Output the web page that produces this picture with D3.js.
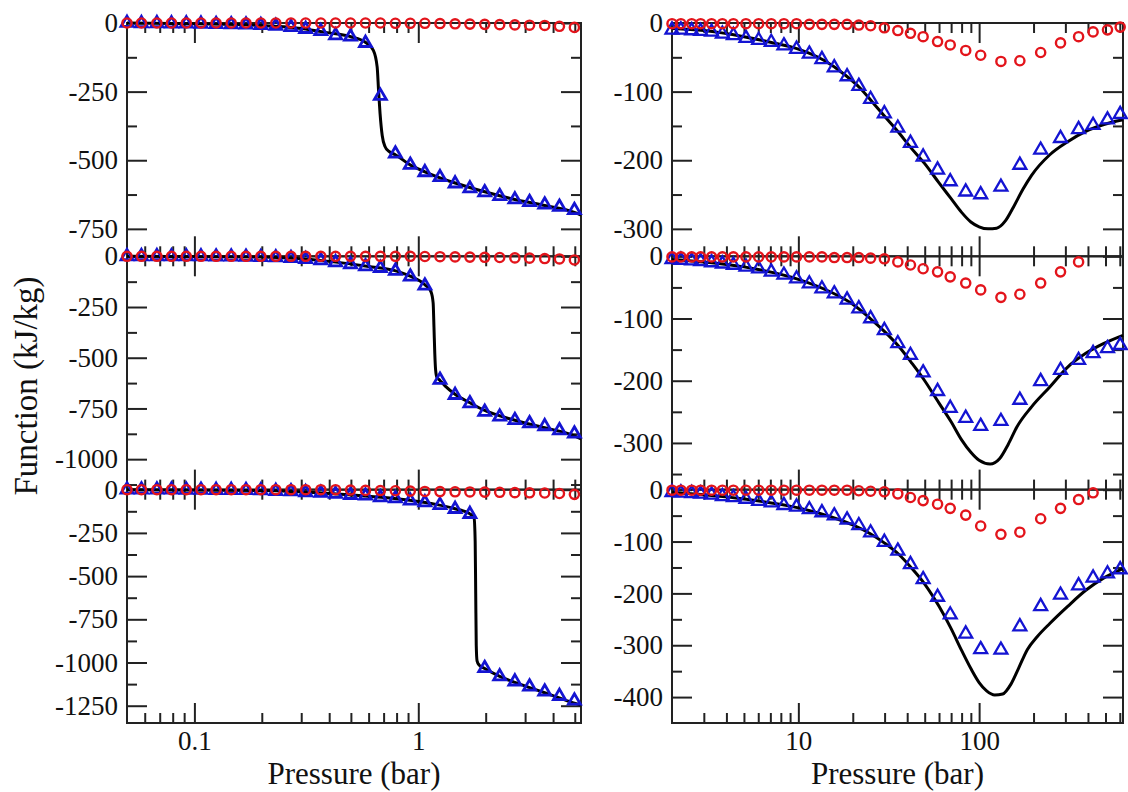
<!DOCTYPE html>
<html><head><meta charset="utf-8">
<script src="https://cdn.jsdelivr.net/npm/d3@7"></script>
<style>
body{margin:0;background:#fff}
svg{display:block}
text{font-family:"Liberation Serif","Times New Roman",serif;fill:#111}
</style>
</head><body>
<svg id="c" width="1128" height="792"></svg>
<script>
// ---------- DATA ----------
const leftPressure = [0.05,0.058,0.068,0.079,0.092,0.107,0.125,0.146,0.17,0.198,0.231,0.27,0.314,0.367,0.427,0.498,0.581,0.677,0.79,0.921,1.07,1.25,1.46,1.7,1.98,2.31,2.7,3.14,3.67,4.27,4.98];
const rightPressure = [2.0,2.24,2.57,2.88,3.31,3.8,4.37,5.13,6.03,7.08,8.32,9.77,11.5,13.5,15.8,18.6,21.6,25.1,29.9,35.5,41.7,49.0,58.9,69.2,84.3,102,132,168,219,282,355,427,513,603];

// left column, top
const l1Tri = [0,-1,-1,-2,-2,-3,-4,-5,-6,-8,-11,-15,-22,-30,-45,-50,-73,-266,-476,-517,-544,-562,-585,-603,-617,-631,-643,-653,-662,-670,-682];
const l1Cir = [0,0,0,0,0,0,0,0,0,0,0,0,0,0,0,0,0,0,-1,-1,-1,-2,-3,-4,-5,-6,-7,-8,-9,-12,-16];
const l1CurveP = [0.05,0.1,0.2,0.3,0.4,0.5,0.58,0.63,0.655,0.665,0.675,0.69,0.71,0.74,0.79,0.92,1.07,1.46,1.98,2.7,3.67,4.98,5.33];
const l1CurveV = [0,-3,-9,-20,-36,-50,-70,-100,-160,-250,-330,-410,-450,-468,-480,-517,-542,-583,-615,-643,-665,-690,-700];
// left column, middle
const l2Tri = [0,0,0,-1,-1,-1,-2,-2,-3,-4,-6,-9,-14,-20,-30,-40,-50,-58,-72,-100,-145,-609,-684,-725,-767,-791,-808,-824,-838,-858,-874];
const l2Cir = [0,0,0,0,0,0,0,0,0,0,0,0,0,0,0,0,0,0,0,0,-1,-2,-3,-4,-5,-6,-8,-9,-11,-13,-18];
const l2CurveP = [0.05,0.2,0.4,0.6,0.8,0.92,1.07,1.14,1.165,1.175,1.185,1.195,1.21,1.25,1.32,1.46,1.7,1.98,2.7,3.67,4.98,5.33];
const l2CurveV = [0,-4,-25,-50,-73,-98,-140,-175,-230,-350,-480,-560,-595,-612,-640,-680,-722,-760,-808,-845,-885,-900];
// left column, bottom
const l3Tri = [0,0,0,0,-1,-1,-2,-2,-3,-4,-8,-10,-15,-19,-25,-31,-35,-45,-50,-64,-74,-89,-112,-141,-1033,-1081,-1110,-1140,-1169,-1194,-1221];
const l3Cir = [0,0,0,0,0,0,0,0,0,0,0,0,0,0,0,-2,-4,-5,-6,-8,-10,-11,-12,-13,-14,-15,-17,-18,-19,-22,-27];
const l3CurveP = [0.05,0.2,0.4,0.6,0.8,1.0,1.2,1.46,1.7,1.775,1.795,1.805,1.815,1.83,1.87,1.98,2.31,2.7,3.14,3.67,4.27,4.98,5.33];
const l3CurveV = [0,-5,-22,-38,-52,-68,-85,-110,-140,-165,-300,-600,-900,-990,-1015,-1035,-1080,-1115,-1145,-1175,-1205,-1235,-1246];

// right column, top
const r1Tri = [-10,-10,-11,-12,-13,-16,-18,-22,-25,-28,-33,-38,-45,-53,-65,-78,-92,-111,-132,-153,-175,-195,-214,-231,-246,-250,-239,-207,-185,-168,-155,-149,-141,-133];
const r1Cir = [-1,-1,-1,-1,-1,-1,-1,-1,-1,-1,-1,-1,-2,-2,-2,-2,-3,-4,-7,-11,-15,-20,-27,-32,-40,-47,-56,-55,-43,-29,-20,-13,-10,-6];
const r1CurveP = [2,3,5,7,10,14,18,22,26,30,36,42,50,60,70,80,90,100,112,125,140,155,175,195,246,309,389,490,625];
const r1CurveV = [-8,-11,-20,-28,-38,-55,-75,-95,-117,-136,-160,-182,-205,-233,-256,-276,-290,-297,-300,-299,-288,-268,-242,-222,-192,-173,-158,-148,-141];
// right column, middle
const r2Tri = [-5,-6,-7,-8,-10,-12,-14,-17,-20,-25,-30,-36,-44,-52,-60,-70,-84,-100,-119,-140,-159,-187,-217,-244,-260,-273,-265,-231,-201,-183,-167,-156,-148,-143];
const r2Cir = [-1,-1,-1,-1,-1,-1,-1,-1,-1,-1,-1,-1,-1,-1,-2,-2,-2,-3,-4,-9,-14,-20,-25,-33,-43,-54,-66,-61,-43,-25,-9,null,null,null];
const r2CurveP = [2,5,10,15,20,25,30,36,42,50,60,70,80,90,100,115,130,145,162,195,246,309,389,490,625];
const r2CurveV = [-5,-17,-37,-57,-77,-100,-121,-145,-170,-200,-236,-266,-295,-315,-328,-334,-325,-302,-274,-242,-210,-178,-156,-140,-127];
// right column, bottom
const r3Tri = [-5,-6,-7,-8,-10,-13,-15,-18,-22,-25,-30,-33,-38,-44,-50,-58,-69,-83,-101,-118,-144,-173,-207,-241,-278,-308,-309,-264,-225,-203,-185,-170,-162,-154];
const r3Cir = [-1,-1,-1,-1,-1,-1,-1,-1,-1,-1,-1,-1,-1,-1,-1,-1,-2,-3,-4,-8,-15,-21,-28,-36,-49,-70,-86,-82,-56,-36,-19,-6,null,null];
const r3CurveP = [2,5,10,15,20,25,30,36,42,50,60,70,80,90,100,110,122,135,150,165,185,210,246,309,389,490,625];
const r3CurveV = [-5,-18,-35,-52,-68,-85,-103,-125,-150,-182,-225,-268,-310,-345,-372,-388,-396,-394,-375,-345,-308,-283,-258,-225,-194,-170,-152];

// axes
const leftXDomain = [0.05, 5.33];
const rightXDomain = [2, 625];
const leftXMajor = [0.1, 1];
const leftXMinor = [0.06,0.07,0.08,0.09,0.2,0.3,0.4,0.5,0.6,0.7,0.8,0.9,2,3,4,5];
const rightXMajor = [10, 100];
const rightXMinor = [3,4,5,6,7,8,9,20,30,40,50,60,70,80,90,200,300,400,500,600];
const yDomainsLeft = [-850, -1150, -1350];
const yDomainsRight = [-340, -375, -450];
const yTicksL1 = [0,-250,-500,-750];
const yTicksL2 = [0,-250,-500,-750,-1000];
const yTicksL3 = [0,-250,-500,-750,-1000,-1250];
const yTicksR1 = [0,-100,-200,-300];
const yTicksR2 = [0,-100,-200,-300];
const yTicksR3 = [0,-100,-200,-300,-400];
const xTitle = "Pressure (bar)";
const yTitle = "Function (kJ/kg)";

// ---------- LAYOUT ----------
const svg = d3.select('#c');
const cols = {left:[127,581], right:[672,1123]};
const rowTop = [23, 256.3, 489.7];
const rowH = 233.3;
const RED = '#e3141b', BLUE = '#1414d2';
const TICKFONT = 27;

const panels = [
  {col:'left', row:0, yMin:yDomainsLeft[0], yTicks:yTicksL1, step:250, tri:l1Tri, cir:l1Cir, cP:l1CurveP, cV:l1CurveV},
  {col:'left', row:1, yMin:yDomainsLeft[1], yTicks:yTicksL2, step:250, tri:l2Tri, cir:l2Cir, cP:l2CurveP, cV:l2CurveV},
  {col:'left', row:2, yMin:yDomainsLeft[2], yTicks:yTicksL3, step:250, tri:l3Tri, cir:l3Cir, cP:l3CurveP, cV:l3CurveV},
  {col:'right', row:0, yMin:yDomainsRight[0], yTicks:yTicksR1, step:100, tri:r1Tri, cir:r1Cir, cP:r1CurveP, cV:r1CurveV},
  {col:'right', row:1, yMin:yDomainsRight[1], yTicks:yTicksR2, step:100, tri:r2Tri, cir:r2Cir, cP:r2CurveP, cV:r2CurveV},
  {col:'right', row:2, yMin:yDomainsRight[2], yTicks:yTicksR3, step:100, tri:r3Tri, cir:r3Cir, cP:r3CurveP, cV:r3CurveV}
];

const fmt = d => String(d);

panels.forEach(p => {
  const isLeft = p.col === 'left';
  const [x0, x1] = cols[p.col];
  const top = rowTop[p.row], bot = top + rowH;
  const x = d3.scaleLog().domain(isLeft ? leftXDomain : rightXDomain).range([x0, x1]);
  const y = d3.scaleLinear().domain([p.yMin, 0]).range([bot, top]);
  const press = isLeft ? leftPressure : rightPressure;
  const g = svg.append('g');

  // frame
  g.append('rect').attr('x', x0).attr('y', top).attr('width', x1 - x0).attr('height', rowH)
    .attr('fill', 'none').attr('stroke', '#222').attr('stroke-width', 2);

  const minorY = d3.range(-p.step/2, p.yMin, -p.step).filter(v => v > p.yMin);
  const xMaj = isLeft ? leftXMajor : rightXMajor;
  const xMin = isLeft ? leftXMinor : rightXMinor;

  const styleAxis = sel => {
    sel.attr('font-size', TICKFONT).attr('font-family', '"Liberation Serif","Times New Roman",serif');
    sel.select('.domain').remove();
    sel.selectAll('line').attr('stroke', '#222').attr('stroke-width', 2);
    sel.selectAll('text').attr('font-size', TICKFONT).attr('fill', '#111');
  };
  // y axes
  g.append('g').attr('transform', `translate(${x0},0)`)
    .call(d3.axisLeft(y).tickValues(p.yTicks).tickSize(-20).tickPadding(9).tickFormat(fmt)).call(styleAxis);
  g.append('g').attr('transform', `translate(${x0},0)`)
    .call(d3.axisLeft(y).tickValues(minorY).tickSize(-10).tickFormat('')).call(styleAxis);
  g.append('g').attr('transform', `translate(${x1},0)`)
    .call(d3.axisRight(y).tickValues(p.yTicks).tickSize(-20).tickFormat('')).call(styleAxis);
  g.append('g').attr('transform', `translate(${x1},0)`)
    .call(d3.axisRight(y).tickValues(minorY).tickSize(-10).tickFormat('')).call(styleAxis);
  // x axes
  const showX = p.row === 2;
  g.append('g').attr('transform', `translate(0,${bot})`)
    .call(d3.axisBottom(x).tickValues(xMaj).tickSize(-20).tickPadding(8).tickFormat(showX ? fmt : '')).call(styleAxis);
  g.append('g').attr('transform', `translate(0,${bot})`)
    .call(d3.axisBottom(x).tickValues(xMin).tickSize(-10).tickFormat('')).call(styleAxis);
  g.append('g').attr('transform', `translate(0,${top})`)
    .call(d3.axisTop(x).tickValues(xMaj).tickSize(-20).tickFormat('')).call(styleAxis);
  g.append('g').attr('transform', `translate(0,${top})`)
    .call(d3.axisTop(x).tickValues(xMin).tickSize(-10).tickFormat('')).call(styleAxis);

  // curve
  const curve = p.cP.map((v, i) => [v, p.cV[i]]);
  g.append('path').datum(curve)
    .attr('d', d3.line().x(d => x(d[0])).y(d => y(d[1])).curve(d3.curveMonotoneX))
    .attr('fill', 'none').attr('stroke', '#000').attr('stroke-width', 3);

  // triangles
  const triData = press.map((v, i) => [v, p.tri[i]]).filter(d => d[1] != null);
  g.selectAll('path.tri').data(triData).enter().append('path').attr('class', 'tri')
    .attr('d', d3.symbol().type(d3.symbolTriangle).size(isLeft ? 62 : 72))
    .attr('transform', d => `translate(${x(d[0])},${y(d[1])})`)
    .attr('fill', 'none').attr('stroke', BLUE).attr('stroke-width', isLeft ? 2.8 : 2.3);

  // circles
  const cirData = press.map((v, i) => [v, p.cir[i]]).filter(d => d[1] != null);
  g.selectAll('circle.cir').data(cirData).enter().append('circle').attr('class', 'cir')
    .attr('cx', d => x(d[0])).attr('cy', d => y(d[1])).attr('r', 4.6)
    .attr('fill', 'none').attr('stroke', RED).attr('stroke-width', 2.4);

  if (showX) {
    svg.append('text').attr('x', (x0 + x1) / 2).attr('y', 784).attr('text-anchor', 'middle')
      .attr('font-size', 31).text(xTitle);
  }
});

svg.append('text').attr('transform', 'translate(37,386) rotate(-90)')
  .attr('text-anchor', 'middle').attr('font-size', 33).text(yTitle);
</script>
</body></html>
